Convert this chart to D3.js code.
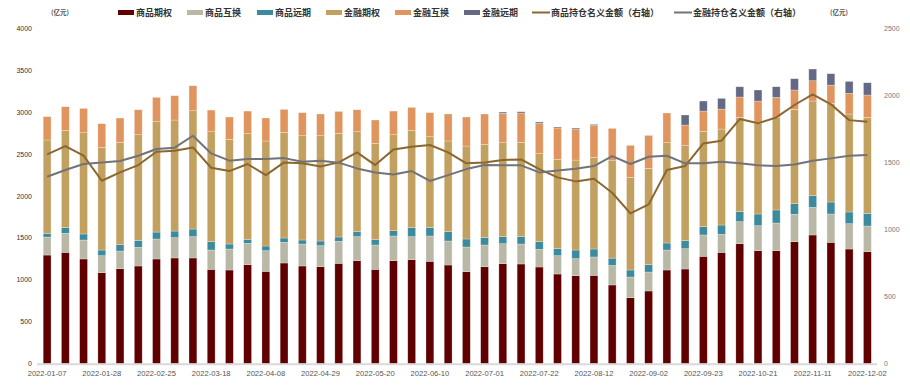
<!DOCTYPE html>
<html><head><meta charset="utf-8">
<script src="https://cdn.jsdelivr.net/npm/d3@7"></script>
<style>html,body{margin:0;padding:0;background:#fff;}svg{display:block;}</style>
</head><body><svg id="c" width="910" height="386"></svg>
<script>
const dates = ["2022-01-07","2022-01-14","2022-01-21","2022-01-28","2022-02-11","2022-02-18","2022-02-25","2022-03-04","2022-03-11","2022-03-18","2022-03-25","2022-04-01","2022-04-08","2022-04-15","2022-04-22","2022-04-29","2022-05-06","2022-05-13","2022-05-20","2022-05-27","2022-06-03","2022-06-10","2022-06-17","2022-06-24","2022-07-01","2022-07-08","2022-07-15","2022-07-22","2022-07-29","2022-08-05","2022-08-12","2022-08-19","2022-08-26","2022-09-02","2022-09-09","2022-09-16","2022-09-23","2022-09-30","2022-10-14","2022-10-21","2022-10-28","2022-11-04","2022-11-11","2022-11-18","2022-11-25","2022-12-02"];
const seriesNames = ["商品期权","商品互换","商品远期","金融期权","金融互换","金融远期"];
const lineNames = ["商品持仓名义金额（右轴）","金融持仓名义金额（右轴）"];
const commodityOption = [1295,1327,1248,1084,1132,1164,1248,1260,1260,1124,1116,1180,1100,1200,1164,1156,1196,1228,1124,1228,1240,1220,1176,1096,1156,1192,1188,1152,1068,1048,1052,937,785,865,1116,1128,1280,1327,1431,1347,1347,1455,1535,1447,1367,1335];
const commoditySwap = [215,228,227,203,211,223,239,243,255,231,251,255,247,247,263,251,263,287,291,295,275,303,287,295,259,239,239,211,219,204,220,233,247,227,239,243,255,216,263,299,331,327,330,339,303,307];
const commodityForward = [45,67,72,68,76,84,83,79,91,100,60,48,56,52,48,56,52,59,64,63,107,103,111,96,88,84,88,92,88,103,95,88,84,88,84,96,99,111,120,140,156,127,140,143,140,152];
const financeOption = [1116,1164,1211,1228,1224,1263,1320,1328,1415,1315,1252,1263,1256,1263,1247,1259,1239,1196,1152,1148,1164,1084,1085,1112,1116,1124,1128,1052,1064,1076,1096,1165,1108,1152,1200,1136,1140,1148,1128,1084,1108,1128,1132,1180,1172,1148];
const financeSwap = [279,283,291,283,291,299,291,291,299,259,267,271,275,275,276,260,263,263,279,283,275,288,323,347,363,351,351,363,375,371,383,387,383,394,355,247,243,239,243,267,239,232,243,219,247,267];
const financeForward = [0,0,0,0,0,0,0,0,0,0,0,0,0,0,0,0,0,0,0,0,0,0,0,0,0,15,15,16,12,12,12,0,0,0,0,120,120,128,123,132,127,135,140,136,143,147];
const commodityHolding = [1562,1624,1552,1365,1427,1482,1582,1589,1614,1462,1437,1490,1407,1502,1495,1472,1502,1577,1482,1599,1619,1632,1577,1495,1502,1520,1524,1452,1390,1360,1380,1275,1121,1188,1445,1475,1644,1664,1826,1794,1838,1931,2010,1936,1818,1806];
const financeHolding = [1395,1445,1490,1502,1512,1552,1602,1612,1701,1569,1515,1527,1527,1534,1507,1515,1500,1457,1427,1412,1437,1363,1407,1452,1482,1480,1480,1427,1442,1455,1475,1549,1490,1544,1552,1495,1495,1507,1495,1480,1475,1487,1515,1532,1552,1557];
const leftTicks = [0,500,1000,1500,2000,2500,3000,3500,4000];
const rightTicks = [0,500,1000,1500,2000,2500];
const unitLabel = "(亿元)";

const colors = ["#600000","#b9b7a5","#3d8a9c","#c2a060","#e0945e","#646a86"];
const lineColors = ["#8c6631","#717378"];
const cjk = "'Noto Sans CJK SC','Liberation Sans',sans-serif";
const num = "'Liberation Sans',Arial,sans-serif";

const svg = d3.select("#c");
const x0 = 38, x1 = 876.5, yTop = 28.9, yBot = 363.3;
const x = d3.scaleBand().domain(dates).range([x0, x1]).paddingInner(0.57).paddingOuter(0.285);
const yL = d3.scaleLinear().domain([0, 4000]).range([yBot, yTop]);
const yR = d3.scaleLinear().domain([0, 2500]).range([yBot, yTop]);

const arrays = [commodityOption, commoditySwap, commodityForward, financeOption, financeSwap, financeForward];
const table = dates.map((d, i) => { const o = {date: d}; seriesNames.forEach((s, k) => o[s] = arrays[k][i]); return o; });
const stacked = d3.stack().keys(seriesNames)(table);

// baseline axis
svg.append("line").attr("x1", 37).attr("x2", 877).attr("y1", yBot + 1).attr("y2", yBot + 1)
  .attr("stroke", "#d9d9d9").attr("stroke-width", 2);

const g = svg.append("g");
stacked.forEach((layer, k) => {
  g.selectAll(null).data(layer.filter(d => d[1] - d[0] > 0)).enter().append("rect")
    .attr("x", d => x(d.data.date)).attr("width", x.bandwidth())
    .attr("y", d => yL(d[1])).attr("height", d => yL(d[0]) - yL(d[1]))
    .attr("fill", colors[k]).attr("stroke", "rgba(255,255,255,0.45)").attr("stroke-width", 0.6);
});

// lines
[commodityHolding, financeHolding].forEach((arr, k) => {
  const line = d3.line().x((d, i) => x(dates[i]) + x.bandwidth() / 2).y(d => yR(d));
  svg.append("path").attr("d", line(arr)).attr("fill", "none")
    .attr("stroke", lineColors[k]).attr("stroke-width", 2).attr("stroke-linejoin", "round");
});

// left axis labels
svg.append("g").selectAll("text").data(leftTicks).enter().append("text")
  .attr("x", 32).attr("y", d => yL(d)).attr("dy", "0.35em").attr("text-anchor", "end")
  .attr("font-family", num).attr("font-size", 7).attr("fill", "#333").text(d => d);
// right axis labels
svg.append("g").selectAll("text").data(rightTicks).enter().append("text")
  .attr("x", 884).attr("y", d => yR(d)).attr("dy", "0.35em").attr("text-anchor", "start")
  .attr("font-family", num).attr("font-size", 7).attr("fill", "#777").text(d => d);
// x labels
svg.append("g").selectAll("text").data(dates.filter((d, i) => i % 3 === 0)).enter().append("text")
  .attr("x", d => x(d) + x.bandwidth() / 2).attr("y", 373.5).attr("dy", "0.35em").attr("text-anchor", "middle")
  .attr("font-family", num).attr("font-size", 7.6).attr("fill", "#555").text(d => d);

// unit labels
[60, 839].forEach(cx => svg.append("text").attr("x", cx).attr("y", 13).attr("dy", "0.35em")
  .attr("text-anchor", "middle").attr("font-family", cjk).attr("font-size", 6.5).attr("font-weight", "bold")
  .attr("fill", "#555").text(unitLabel));

// legend
const legendX = [118, 187, 257, 326, 395, 464];
seriesNames.forEach((s, k) => {
  svg.append("rect").attr("x", legendX[k]).attr("y", 10).attr("width", 16).attr("height", 5).attr("fill", colors[k]);
  svg.append("text").attr("x", legendX[k] + 18).attr("y", 12.5).attr("dy", "0.35em")
    .attr("font-family", cjk).attr("font-size", 9).attr("font-weight", "bold").attr("fill", "#333").text(s);
});
const lineLegX = [532, 674];
lineNames.forEach((s, k) => {
  svg.append("line").attr("x1", lineLegX[k]).attr("x2", lineLegX[k] + 18).attr("y1", 12.5).attr("y2", 12.5)
    .attr("stroke", lineColors[k]).attr("stroke-width", 2);
  svg.append("text").attr("x", lineLegX[k] + 19).attr("y", 12.5).attr("dy", "0.35em")
    .attr("font-family", cjk).attr("font-size", 9).attr("font-weight", "bold").attr("fill", "#333").text(s);
});
</script></body></html>
